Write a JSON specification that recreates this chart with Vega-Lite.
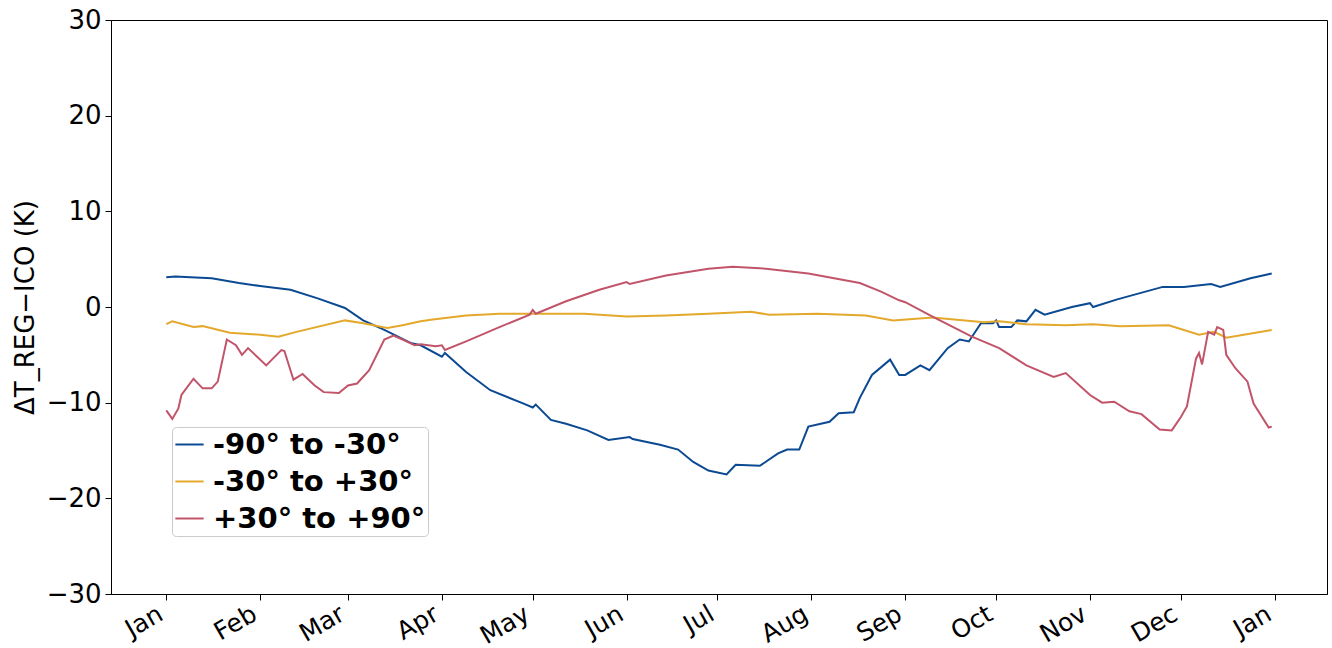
{
  "$schema": "https://vega.github.io/schema/vega-lite/v6.json",
  "width": 1216,
  "height": 574,
  "autosize": {"type": "none"},
  "padding": {"left": 111, "top": 20, "right": 5, "bottom": 54},
  "background": "white",
  "config": {
    "view": {"stroke": "black", "strokeWidth": 1},
    "font": "DejaVu Sans"
  },
  "data": {"values": [
    {"date":"2020-01-01","band":"-90° to -30°","dT":3.1},
    {"date":"2020-01-04","band":"-90° to -30°","dT":3.2},
    {"date":"2020-01-09","band":"-90° to -30°","dT":3.1},
    {"date":"2020-01-16","band":"-90° to -30°","dT":3.0},
    {"date":"2020-01-25","band":"-90° to -30°","dT":2.5},
    {"date":"2020-02-01","band":"-90° to -30°","dT":2.2},
    {"date":"2020-02-11","band":"-90° to -30°","dT":1.8},
    {"date":"2020-02-20","band":"-90° to -30°","dT":0.9},
    {"date":"2020-02-29","band":"-90° to -30°","dT":-0.1},
    {"date":"2020-03-06","band":"-90° to -30°","dT":-1.4},
    {"date":"2020-03-13","band":"-90° to -30°","dT":-2.4},
    {"date":"2020-03-22","band":"-90° to -30°","dT":-3.8},
    {"date":"2020-03-25","band":"-90° to -30°","dT":-4.0},
    {"date":"2020-04-01","band":"-90° to -30°","dT":-5.2},
    {"date":"2020-04-02","band":"-90° to -30°","dT":-4.8},
    {"date":"2020-04-09","band":"-90° to -30°","dT":-6.8},
    {"date":"2020-04-17","band":"-90° to -30°","dT":-8.7},
    {"date":"2020-04-28","band":"-90° to -30°","dT":-10.1},
    {"date":"2020-05-01","band":"-90° to -30°","dT":-10.5},
    {"date":"2020-05-02","band":"-90° to -30°","dT":-10.2},
    {"date":"2020-05-07","band":"-90° to -30°","dT":-11.8},
    {"date":"2020-05-12","band":"-90° to -30°","dT":-12.2},
    {"date":"2020-05-19","band":"-90° to -30°","dT":-12.9},
    {"date":"2020-05-26","band":"-90° to -30°","dT":-13.9},
    {"date":"2020-06-02","band":"-90° to -30°","dT":-13.6},
    {"date":"2020-06-03","band":"-90° to -30°","dT":-13.8},
    {"date":"2020-06-12","band":"-90° to -30°","dT":-14.4},
    {"date":"2020-06-18","band":"-90° to -30°","dT":-14.9},
    {"date":"2020-06-23","band":"-90° to -30°","dT":-16.2},
    {"date":"2020-06-28","band":"-90° to -30°","dT":-17.1},
    {"date":"2020-07-04","band":"-90° to -30°","dT":-17.5},
    {"date":"2020-07-07","band":"-90° to -30°","dT":-16.5},
    {"date":"2020-07-15","band":"-90° to -30°","dT":-16.6},
    {"date":"2020-07-21","band":"-90° to -30°","dT":-15.3},
    {"date":"2020-07-24","band":"-90° to -30°","dT":-14.9},
    {"date":"2020-07-28","band":"-90° to -30°","dT":-14.9},
    {"date":"2020-07-31","band":"-90° to -30°","dT":-12.5},
    {"date":"2020-08-07","band":"-90° to -30°","dT":-12.0},
    {"date":"2020-08-10","band":"-90° to -30°","dT":-11.1},
    {"date":"2020-08-15","band":"-90° to -30°","dT":-11.0},
    {"date":"2020-08-17","band":"-90° to -30°","dT":-9.5},
    {"date":"2020-08-21","band":"-90° to -30°","dT":-7.1},
    {"date":"2020-08-27","band":"-90° to -30°","dT":-5.5},
    {"date":"2020-08-30","band":"-90° to -30°","dT":-7.1},
    {"date":"2020-09-01","band":"-90° to -30°","dT":-7.1},
    {"date":"2020-09-06","band":"-90° to -30°","dT":-6.1},
    {"date":"2020-09-09","band":"-90° to -30°","dT":-6.6},
    {"date":"2020-09-15","band":"-90° to -30°","dT":-4.3},
    {"date":"2020-09-19","band":"-90° to -30°","dT":-3.4},
    {"date":"2020-09-22","band":"-90° to -30°","dT":-3.6},
    {"date":"2020-09-26","band":"-90° to -30°","dT":-1.7},
    {"date":"2020-09-30","band":"-90° to -30°","dT":-1.7},
    {"date":"2020-10-01","band":"-90° to -30°","dT":-1.4},
    {"date":"2020-10-02","band":"-90° to -30°","dT":-2.1},
    {"date":"2020-10-06","band":"-90° to -30°","dT":-2.1},
    {"date":"2020-10-08","band":"-90° to -30°","dT":-1.4},
    {"date":"2020-10-11","band":"-90° to -30°","dT":-1.5},
    {"date":"2020-10-14","band":"-90° to -30°","dT":-0.3},
    {"date":"2020-10-17","band":"-90° to -30°","dT":-0.8},
    {"date":"2020-10-26","band":"-90° to -30°","dT":0.0},
    {"date":"2020-11-01","band":"-90° to -30°","dT":0.4},
    {"date":"2020-11-02","band":"-90° to -30°","dT":0.0},
    {"date":"2020-11-10","band":"-90° to -30°","dT":0.8},
    {"date":"2020-11-25","band":"-90° to -30°","dT":2.1},
    {"date":"2020-12-02","band":"-90° to -30°","dT":2.1},
    {"date":"2020-12-11","band":"-90° to -30°","dT":2.4},
    {"date":"2020-12-14","band":"-90° to -30°","dT":2.1},
    {"date":"2020-12-24","band":"-90° to -30°","dT":3.0},
    {"date":"2020-12-31","band":"-90° to -30°","dT":3.5},

    {"date":"2020-01-01","band":"-30° to +30°","dT":-1.8},
    {"date":"2020-01-03","band":"-30° to +30°","dT":-1.5},
    {"date":"2020-01-10","band":"-30° to +30°","dT":-2.1},
    {"date":"2020-01-13","band":"-30° to +30°","dT":-2.0},
    {"date":"2020-01-22","band":"-30° to +30°","dT":-2.7},
    {"date":"2020-02-01","band":"-30° to +30°","dT":-2.9},
    {"date":"2020-02-07","band":"-30° to +30°","dT":-3.1},
    {"date":"2020-02-13","band":"-30° to +30°","dT":-2.6},
    {"date":"2020-02-29","band":"-30° to +30°","dT":-1.4},
    {"date":"2020-03-06","band":"-30° to +30°","dT":-1.7},
    {"date":"2020-03-14","band":"-30° to +30°","dT":-2.2},
    {"date":"2020-03-19","band":"-30° to +30°","dT":-1.9},
    {"date":"2020-03-25","band":"-30° to +30°","dT":-1.5},
    {"date":"2020-03-29","band":"-30° to +30°","dT":-1.3},
    {"date":"2020-04-09","band":"-30° to +30°","dT":-0.9},
    {"date":"2020-04-20","band":"-30° to +30°","dT":-0.7},
    {"date":"2020-05-01","band":"-30° to +30°","dT":-0.7},
    {"date":"2020-05-18","band":"-30° to +30°","dT":-0.7},
    {"date":"2020-06-01","band":"-30° to +30°","dT":-1.0},
    {"date":"2020-06-14","band":"-30° to +30°","dT":-0.9},
    {"date":"2020-06-28","band":"-30° to +30°","dT":-0.7},
    {"date":"2020-07-12","band":"-30° to +30°","dT":-0.5},
    {"date":"2020-07-18","band":"-30° to +30°","dT":-0.8},
    {"date":"2020-08-03","band":"-30° to +30°","dT":-0.7},
    {"date":"2020-08-19","band":"-30° to +30°","dT":-0.9},
    {"date":"2020-08-28","band":"-30° to +30°","dT":-1.4},
    {"date":"2020-09-10","band":"-30° to +30°","dT":-1.1},
    {"date":"2020-09-27","band":"-30° to +30°","dT":-1.6},
    {"date":"2020-10-02","band":"-30° to +30°","dT":-1.5},
    {"date":"2020-10-11","band":"-30° to +30°","dT":-1.8},
    {"date":"2020-10-24","band":"-30° to +30°","dT":-1.9},
    {"date":"2020-11-02","band":"-30° to +30°","dT":-1.8},
    {"date":"2020-11-11","band":"-30° to +30°","dT":-2.0},
    {"date":"2020-11-27","band":"-30° to +30°","dT":-1.9},
    {"date":"2020-12-07","band":"-30° to +30°","dT":-2.9},
    {"date":"2020-12-12","band":"-30° to +30°","dT":-2.6},
    {"date":"2020-12-16","band":"-30° to +30°","dT":-3.2},
    {"date":"2020-12-31","band":"-30° to +30°","dT":-2.4},

    {"date":"2020-01-01","band":"+30° to +90°","dT":-10.8},
    {"date":"2020-01-03","band":"+30° to +90°","dT":-11.7},
    {"date":"2020-01-05","band":"+30° to +90°","dT":-10.6},
    {"date":"2020-01-06","band":"+30° to +90°","dT":-9.2},
    {"date":"2020-01-10","band":"+30° to +90°","dT":-7.5},
    {"date":"2020-01-13","band":"+30° to +90°","dT":-8.5},
    {"date":"2020-01-16","band":"+30° to +90°","dT":-8.5},
    {"date":"2020-01-18","band":"+30° to +90°","dT":-7.8},
    {"date":"2020-01-21","band":"+30° to +90°","dT":-3.4},
    {"date":"2020-01-24","band":"+30° to +90°","dT":-4.0},
    {"date":"2020-01-26","band":"+30° to +90°","dT":-5.0},
    {"date":"2020-01-28","band":"+30° to +90°","dT":-4.3},
    {"date":"2020-01-31","band":"+30° to +90°","dT":-5.2},
    {"date":"2020-02-03","band":"+30° to +90°","dT":-6.1},
    {"date":"2020-02-08","band":"+30° to +90°","dT":-4.5},
    {"date":"2020-02-09","band":"+30° to +90°","dT":-4.6},
    {"date":"2020-02-12","band":"+30° to +90°","dT":-7.6},
    {"date":"2020-02-15","band":"+30° to +90°","dT":-7.0},
    {"date":"2020-02-19","band":"+30° to +90°","dT":-8.2},
    {"date":"2020-02-22","band":"+30° to +90°","dT":-8.9},
    {"date":"2020-02-27","band":"+30° to +90°","dT":-9.0},
    {"date":"2020-03-01","band":"+30° to +90°","dT":-8.2},
    {"date":"2020-03-04","band":"+30° to +90°","dT":-8.0},
    {"date":"2020-03-08","band":"+30° to +90°","dT":-6.6},
    {"date":"2020-03-13","band":"+30° to +90°","dT":-3.4},
    {"date":"2020-03-16","band":"+30° to +90°","dT":-3.0},
    {"date":"2020-03-19","band":"+30° to +90°","dT":-3.4},
    {"date":"2020-03-23","band":"+30° to +90°","dT":-4.0},
    {"date":"2020-03-25","band":"+30° to +90°","dT":-3.9},
    {"date":"2020-03-30","band":"+30° to +90°","dT":-4.1},
    {"date":"2020-04-01","band":"+30° to +90°","dT":-4.0},
    {"date":"2020-04-02","band":"+30° to +90°","dT":-4.5},
    {"date":"2020-04-09","band":"+30° to +90°","dT":-3.6},
    {"date":"2020-04-20","band":"+30° to +90°","dT":-2.1},
    {"date":"2020-04-30","band":"+30° to +90°","dT":-0.8},
    {"date":"2020-05-01","band":"+30° to +90°","dT":-0.3},
    {"date":"2020-05-02","band":"+30° to +90°","dT":-0.7},
    {"date":"2020-05-12","band":"+30° to +90°","dT":0.6},
    {"date":"2020-05-23","band":"+30° to +90°","dT":1.8},
    {"date":"2020-06-01","band":"+30° to +90°","dT":2.6},
    {"date":"2020-06-02","band":"+30° to +90°","dT":2.4},
    {"date":"2020-06-14","band":"+30° to +90°","dT":3.3},
    {"date":"2020-06-28","band":"+30° to +90°","dT":4.0},
    {"date":"2020-07-06","band":"+30° to +90°","dT":4.2},
    {"date":"2020-07-17","band":"+30° to +90°","dT":4.0},
    {"date":"2020-07-31","band":"+30° to +90°","dT":3.5},
    {"date":"2020-08-17","band":"+30° to +90°","dT":2.5},
    {"date":"2020-08-24","band":"+30° to +90°","dT":1.6},
    {"date":"2020-08-30","band":"+30° to +90°","dT":0.7},
    {"date":"2020-09-01","band":"+30° to +90°","dT":0.5},
    {"date":"2020-09-10","band":"+30° to +90°","dT":-1.0},
    {"date":"2020-09-23","band":"+30° to +90°","dT":-3.1},
    {"date":"2020-10-02","band":"+30° to +90°","dT":-4.3},
    {"date":"2020-10-11","band":"+30° to +90°","dT":-6.1},
    {"date":"2020-10-20","band":"+30° to +90°","dT":-7.3},
    {"date":"2020-10-24","band":"+30° to +90°","dT":-6.9},
    {"date":"2020-11-01","band":"+30° to +90°","dT":-9.2},
    {"date":"2020-11-05","band":"+30° to +90°","dT":-10.0},
    {"date":"2020-11-09","band":"+30° to +90°","dT":-9.9},
    {"date":"2020-11-14","band":"+30° to +90°","dT":-10.9},
    {"date":"2020-11-18","band":"+30° to +90°","dT":-11.2},
    {"date":"2020-11-24","band":"+30° to +90°","dT":-12.8},
    {"date":"2020-11-28","band":"+30° to +90°","dT":-12.9},
    {"date":"2020-12-01","band":"+30° to +90°","dT":-11.5},
    {"date":"2020-12-03","band":"+30° to +90°","dT":-10.4},
    {"date":"2020-12-06","band":"+30° to +90°","dT":-5.4},
    {"date":"2020-12-07","band":"+30° to +90°","dT":-4.8},
    {"date":"2020-12-08","band":"+30° to +90°","dT":-6.0},
    {"date":"2020-12-10","band":"+30° to +90°","dT":-2.6},
    {"date":"2020-12-12","band":"+30° to +90°","dT":-2.9},
    {"date":"2020-12-13","band":"+30° to +90°","dT":-2.1},
    {"date":"2020-12-15","band":"+30° to +90°","dT":-2.4},
    {"date":"2020-12-16","band":"+30° to +90°","dT":-5.0},
    {"date":"2020-12-19","band":"+30° to +90°","dT":-6.4},
    {"date":"2020-12-23","band":"+30° to +90°","dT":-7.8},
    {"date":"2020-12-25","band":"+30° to +90°","dT":-10.1},
    {"date":"2020-12-30","band":"+30° to +90°","dT":-12.6},
    {"date":"2020-12-31","band":"+30° to +90°","dT":-12.5}
  ]},
  "mark": {"type": "line", "strokeWidth": 2, "interpolate": "linear"},
  "encoding": {
    "x": {
      "field": "date",
      "type": "temporal",
      "scale": {
        "type": "utc",
        "domain": [
          {"year": 2019, "month": 12, "date": 13, "hours": 18, "utc": true},
          {"year": 2021, "month": 1, "date": 18, "hours": 6, "utc": true}
        ]
      },
      "axis": {
        "title": null,
        "labelExpr": "utcFormat(datum.value, '%b')",
        "tickCount": {"interval": "month", "step": 1},
        "labelAngle": -30,
        "labelAlign": "right",
        "labelBaseline": "top",
        "labelOffset": -12,
        "labelFont": "DejaVu Sans",
        "labelFontSize": 25,
        "labelColor": "black",
        "labelPadding": 1,
        "labelOverlap": false,
        "labelFlush": false,
        "tickColor": "black",
        "tickSize": 6,
        "domainColor": "black",
        "grid": false
      }
    },
    "y": {
      "field": "dT",
      "type": "quantitative",
      "scale": {"domain": [-30, 30], "nice": false, "zero": false},
      "axis": {
        "title": "ΔT_REG−ICO (K)",
        "titleFont": "DejaVu Sans",
        "titleFontSize": 26,
        "titleFontWeight": "normal",
        "titleColor": "black",
        "titlePadding": 8,
        "values": [-30, -20, -10, 0, 10, 20, 30],
        "labelExpr": "datum.value < 0 ? '−' + abs(datum.value) : datum.label",
        "labelFont": "DejaVu Sans",
        "labelFontSize": 26,
        "labelColor": "black",
        "labelPadding": 4,
        "labelFlush": false,
        "labelOverlap": false,
        "tickColor": "black",
        "tickSize": 6,
        "domainColor": "black",
        "grid": false
      }
    },
    "color": {
      "field": "band",
      "type": "nominal",
      "scale": {
        "domain": ["-90° to -30°", "-30° to +30°", "+30° to +90°"],
        "range": ["#0b4a92", "#e3a82c", "#c2546a"]
      },
      "legend": {
        "title": null,
        "orient": "none",
        "legendX": 61,
        "legendY": 407,
        "strokeColor": "#cccccc",
        "fillColor": "rgba(255,255,255,0.85)",
        "cornerRadius": 4,
        "padding": 2,
        "symbolType": "stroke",
        "symbolStrokeWidth": 2,
        "symbolSize": 800,
        "labelFont": "DejaVu Sans",
        "labelFontSize": 29,
        "labelFontWeight": "bold",
        "labelColor": "black",
        "labelLimit": 400,
        "labelOffset": 8,
        "rowPadding": 6
      }
    }
  }
}
